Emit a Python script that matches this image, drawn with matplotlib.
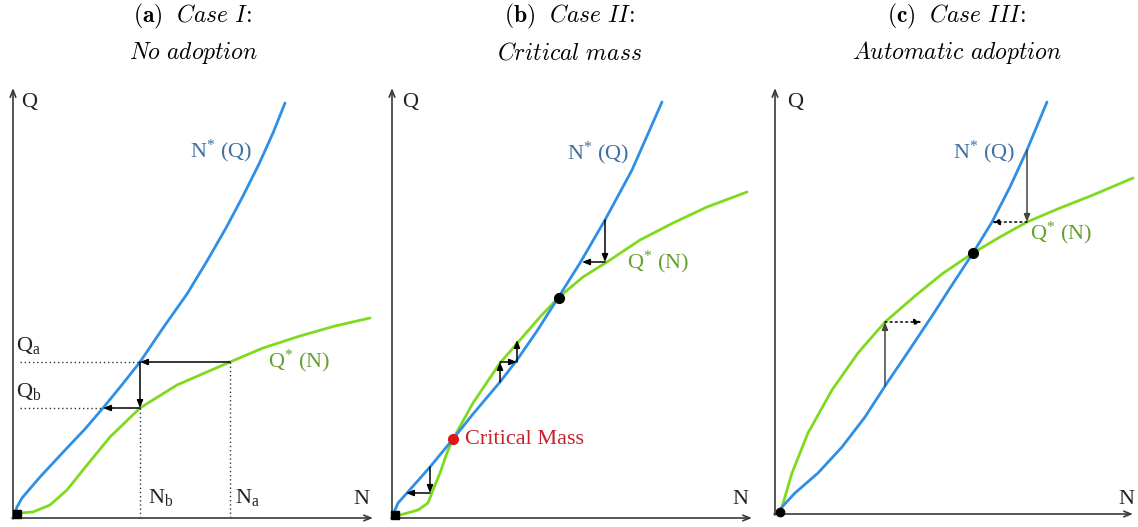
import matplotlib
matplotlib.use("Agg")
import matplotlib.pyplot as plt

plt.rcParams['mathtext.fontset'] = 'custom'
plt.rcParams['mathtext.rm'] = 'Liberation Serif'
plt.rcParams['mathtext.it'] = 'Liberation Serif:italic'
plt.rcParams['font.family'] = ['Liberation Serif', 'DejaVu Serif']

W, H = 1138, 527

# ---------------- data (panel units, origin at axes corner) ----------------
titles_l1 = [r'$\mathbf{(a)}\ \ \mathit{Case\ I\!:}$', r'$\mathbf{(b)}\ \ \mathit{Case\ II\!:}$',
             r'$\mathbf{(c)}\ \ \mathit{Case\ III\!:}$']
titles_l2 = [r'$\mathit{No\ adoption}$', r'$\mathit{Critical\ mass}$', r'$\mathit{Automatic\ adoption}$']

# Panel a: Case I
blue_a_x = [1, 4, 9, 27, 54, 72, 90, 108, 127, 150, 174, 194, 213, 230, 246, 260, 272]
blue_a_y = [2, 11, 20, 41, 70, 89, 110, 132, 156, 190, 224, 257, 290, 322, 354, 385, 415]
green_a_x = [4, 7, 20, 37, 54, 70, 97, 127, 164, 187, 217, 250, 287, 322, 357]
green_a_y = [1, 5, 6, 13, 28, 48, 81, 110, 133, 143, 156, 170, 182, 192, 200]
Qa, Qb = 156, 110
Na, Nb = 217, 127
Nb_left = 90

# Panel b: Case II
blue_b_x = [1, 3, 6, 15, 38, 61, 81, 108, 125, 145, 166, 188, 213, 240, 270]
blue_b_y = [2, 8, 15, 25, 51, 79, 104, 136, 158, 187, 220, 255, 298, 348, 416]
green_b_x = [3, 8, 26, 36, 41, 48, 55, 61, 81, 108, 128, 148, 166, 191, 215, 248, 281, 315, 355]
green_b_y = [1, 3, 8, 15, 28, 45, 65, 79, 115, 155, 178, 201, 220, 241, 256, 278, 295, 311, 326]
critical_b = (61, 79)
stable_b = (167, 220)

# Panel c: Case III
blue_c_x = [5, 7, 20, 43, 67, 90, 112, 133, 157, 177, 198, 217, 235, 252, 272]
blue_c_y = [3, 7, 21, 41, 67, 97, 131, 162, 198, 229, 261, 292, 327, 364, 412]
green_c_x = [5, 7, 17, 33, 57, 83, 110, 140, 167, 198, 225, 252, 285, 318, 358]
green_c_y = [3, 7, 41, 81, 124, 161, 192, 218, 240, 261, 277, 292, 306, 319, 336]
stable_c = (198, 261)

BLUE = '#2f8fe6'
GREEN = '#7fda1e'
LBLUE = '#3f6fa3'
LGREEN = '#65a02c'
AXC = '#3a3a3a'

fig = plt.figure(figsize=(W / 100, H / 100), dpi=100)


def panel(px0, px1, ox, oy, xlen, ylen):
    ax = fig.add_axes([px0 / W, 0, (px1 - px0) / W, 1])
    ax.set_xlim(px0 - ox, px1 - ox)
    ax.set_ylim(oy - H, oy)
    ax.axis('off')
    ax.annotate('', xy=(xlen, 0), xytext=(-1, 0),
                arrowprops=dict(arrowstyle='->,head_length=0.5,head_width=0.2', color=AXC, lw=1.2,
                                shrinkA=0, shrinkB=0))
    ax.annotate('', xy=(0, ylen), xytext=(0, -1),
                arrowprops=dict(arrowstyle='->,head_length=0.5,head_width=0.2', color=AXC, lw=1.2,
                                shrinkA=0, shrinkB=0))
    return ax


def arrow(ax, x0, y0, x1, y1, dotted=False, color='black'):
    ls = (0, (1.2, 2.2)) if dotted else '-'
    ax.annotate('', xy=(x1, y1), xytext=(x0, y0),
                arrowprops=dict(arrowstyle='-|>,head_length=0.45,head_width=0.18', color=color, lw=1.1,
                                linestyle=ls, shrinkA=0, shrinkB=0))


def curve(ax, xs, ys, color):
    ax.plot(xs, ys, color=color, lw=2.0, solid_capstyle='round', solid_joinstyle='round', zorder=2)


FS = 16

# ---------------- Panel a ----------------
ax = panel(0, 380, 13, 518, 360, 430)
curve(ax, green_a_x, green_a_y, GREEN)
curve(ax, blue_a_x, blue_a_y, BLUE)
ax.plot([7, Nb], [Qa, Qa], color='#333333', lw=1.0, ls=(0, (1, 2)))
ax.plot([7, Nb_left], [Qb, Qb], color='#333333', lw=1.0, ls=(0, (1, 2)))
ax.plot([Nb, Nb], [Qb, 0], color='#333333', lw=1.0, ls=(0, (1, 2)))
ax.plot([Na, Na], [Qa, 0], color='#333333', lw=1.0, ls=(0, (1, 2)))
arrow(ax, Na, Qa, Nb, Qa)
arrow(ax, Nb, Qa, Nb, Qb)
arrow(ax, Nb, Qb, Nb_left, Qb)
ax.plot([4], [4], marker='s', color='black', ms=6, zorder=5)
ax.text(8, 416, 'Q', fontsize=FS, color='#222222', va='center', ha='left')
ax.text(340, 18, 'N', fontsize=FS, color='#222222', va='center', ha='left')
ax.text(177, 367, r'N$^{*}$ (Q)', fontsize=FS, color=LBLUE, va='center', ha='left')
ax.text(255, 157, r'Q$^{*}$ (N)', fontsize=FS, color=LGREEN, va='center', ha='left')
ax.text(3, 173, r'Q$_{\mathrm{a}}$', fontsize=FS, color='#222222', va='center', ha='left')
ax.text(3, 126, r'Q$_{\mathrm{b}}$', fontsize=FS, color='#222222', va='center', ha='left')
ax.text(135, 20, r'N$_{\mathrm{b}}$', fontsize=FS, color='#222222', va='center', ha='left')
ax.text(222, 20, r'N$_{\mathrm{a}}$', fontsize=FS, color='#222222', va='center', ha='left')

# ---------------- Panel b ----------------
ax = panel(380, 760, 392, 518, 360, 430)
curve(ax, green_b_x, green_b_y, GREEN)
curve(ax, blue_b_x, blue_b_y, BLUE)
arrow(ax, 38, 51, 38, 25)
arrow(ax, 38, 25, 14, 25)
arrow(ax, 108, 136, 108, 156)
arrow(ax, 108, 156, 125, 156)
arrow(ax, 125, 156, 125, 178)
arrow(ax, 213, 298, 213, 256)
arrow(ax, 213, 256, 190, 256)
ax.plot([3], [3], marker='s', color='black', ms=6, zorder=5)
ax.plot([critical_b[0]], [critical_b[1]], marker='o', color='#e01515', ms=7, zorder=5)
ax.plot([stable_b[0]], [stable_b[1]], marker='o', color='black', ms=7, zorder=5)
ax.text(10, 416, 'Q', fontsize=FS, color='#222222', va='center', ha='left')
ax.text(340, 19, 'N', fontsize=FS, color='#222222', va='center', ha='left')
ax.text(175, 365, r'N$^{*}$ (Q)', fontsize=FS, color=LBLUE, va='center', ha='left')
ax.text(235, 256, r'Q$^{*}$ (N)', fontsize=FS, color=LGREEN, va='center', ha='left')
ax.text(73, 79, 'Critical Mass', fontsize=FS, color='#c8202a', va='center', ha='left')

# ---------------- Panel c ----------------
ax = panel(760, 1138, 775, 514, 358, 426)
curve(ax, green_c_x, green_c_y, GREEN)
curve(ax, blue_c_x, blue_c_y, BLUE)
arrow(ax, 252, 364, 252, 292, color='#444444')
arrow(ax, 252, 292, 217, 292, dotted=True)
arrow(ax, 110, 128, 110, 192, color='#444444')
arrow(ax, 110, 192, 147, 192, dotted=True)
ax.plot([5], [2], marker='o', color='black', ms=6, zorder=5)
ax.plot([stable_c[0]], [stable_c[1]], marker='o', color='black', ms=7, zorder=5)
ax.text(12, 412, 'Q', fontsize=FS, color='#222222', va='center', ha='left')
ax.text(343, 15, 'N', fontsize=FS, color='#222222', va='center', ha='left')
ax.text(178, 362, r'N$^{*}$ (Q)', fontsize=FS, color=LBLUE, va='center', ha='left')
ax.text(255, 281, r'Q$^{*}$ (N)', fontsize=FS, color=LGREEN, va='center', ha='left')

# ---------------- Titles ----------------
centers = [193, 570, 957]
for cx, t1, t2 in zip(centers, titles_l1, titles_l2):
    fig.text(cx / W, 1 - 16 / H, t1, fontsize=17, ha='center', va='center', math_fontfamily='cm')
    fig.text(cx / W, 1 - 53 / H, t2, fontsize=17, ha='center', va='center', math_fontfamily='cm')

fig.savefig('out.png', dpi=100)
